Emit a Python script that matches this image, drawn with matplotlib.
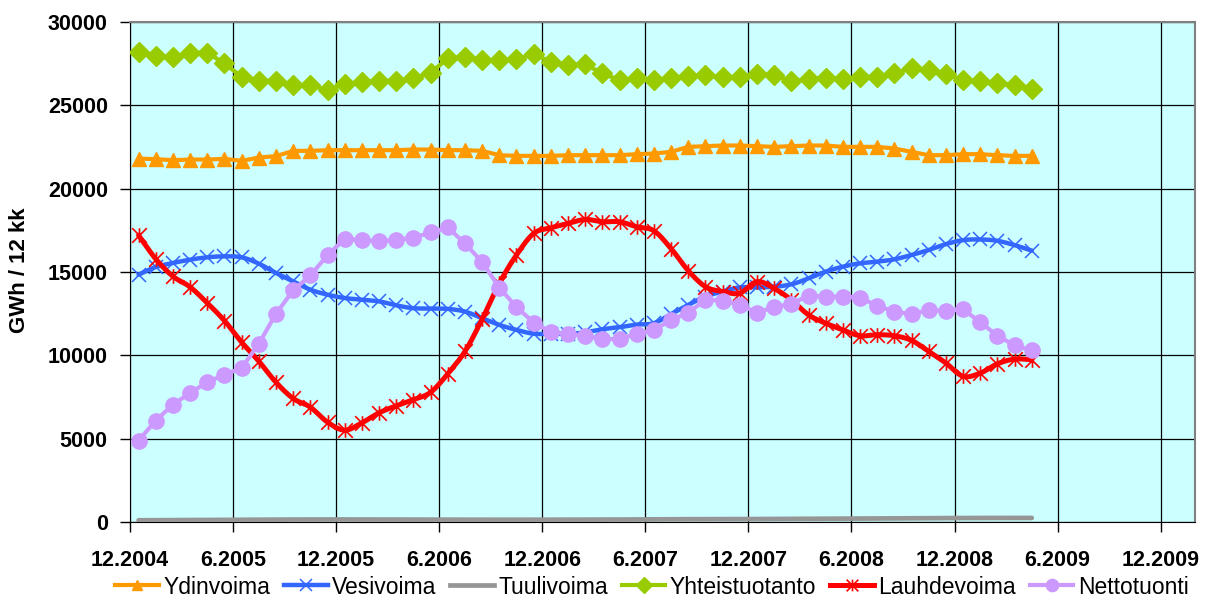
import numpy as np
import pandas as pd
import matplotlib
matplotlib.use("Agg")
import matplotlib.pyplot as plt
from matplotlib.lines import Line2D
from matplotlib.path import Path

plt.rcParams['font.family'] = ['Liberation Sans', 'DejaVu Sans']

# ---- data (GWh, rolling 12 months), monthly 12.2004 .. 4.2009 ----
months = pd.period_range('2004-12', periods=53, freq='M')

ydinvoima = [21800, 21760, 21700, 21740, 21740, 21780, 21660, 21860, 21940, 22260,
             22260, 22300, 22300, 22300, 22300, 22300, 22340, 22340, 22300, 22300,
             22260, 22000, 21960, 21960, 21960, 22000, 22000, 22000, 22000, 22060,
             22100, 22200, 22500, 22540, 22580, 22580, 22540, 22500, 22540, 22580,
             22580, 22500, 22500, 22500, 22400, 22200, 22000, 22000, 22060, 22060,
             22000, 21960, 21960]
vesivoima = [14840, 15300, 15540, 15740, 15880, 15940, 15880, 15500, 14940, 14440,
             13940, 13640, 13440, 13340, 13240, 13000, 12830, 12810, 12790, 12630,
             12230, 11830, 11530, 11300, 11300, 11300, 11380, 11570, 11690, 11850,
             11930, 12480, 13030, 13530, 13830, 14080, 14080, 14120, 14260, 14620,
             15020, 15320, 15520, 15620, 15760, 16020, 16320, 16670, 16910, 16950,
             16870, 16610, 16280]
tuulivoima = [120, 125, 130, 135, 140, 145, 150, 155, 160, 165, 168, 170, 170,
              168, 166, 164, 162, 160, 158, 156, 155, 154, 154, 155, 156,
              158, 160, 163, 166, 170, 175, 180, 185, 188, 190, 192, 195,
              200, 205, 210, 215, 220, 225, 230, 235, 240, 245, 250, 255,
              258, 260, 260, 261]
yhteistuotanto = [28200, 27960, 27860, 28140, 28140, 27500, 26700, 26460, 26460, 26200,
                  26200, 25900, 26260, 26400, 26460, 26460, 26600, 26940, 27800, 27900,
                  27700, 27700, 27740, 28060, 27600, 27400, 27450, 26900, 26500, 26600,
                  26500, 26600, 26740, 26800, 26660, 26700, 26860, 26800, 26440, 26560,
                  26640, 26540, 26700, 26700, 26940, 27200, 27100, 26840, 26500, 26440,
                  26340, 26200, 25940]
lauhdevoima = [17200, 15780, 14740, 14100, 13140, 12080, 10790, 9650, 8390, 7420,
               6900, 6000, 5520, 5960, 6560, 6980, 7350, 7790, 8900, 10240,
               12170, 14320, 16020, 17310, 17650, 17910, 18150, 18010, 18010, 17710,
               17470, 16400, 15080, 14120, 13830, 13730, 14420, 14020, 13330, 12430,
               11930, 11530, 11180, 11240, 11180, 10900, 10240, 9540, 8750, 8940,
               9500, 9780, 9740]
nettotuonti = [4900, 6100, 7050, 7750, 8400, 8850, 9250, 10700, 12500, 13900,
               14800, 16000, 17000, 16900, 16850, 16920, 17060, 17370, 17670, 16710,
               15600, 14060, 12900, 11970, 11410, 11280, 11180, 10980, 10980, 11300,
               11530, 12130, 12570, 13330, 13290, 13030, 12570, 12890, 13090, 13590,
               13530, 13530, 13470, 12970, 12630, 12470, 12730, 12650, 12770, 11990,
               11180, 10600, 10300]

tick_labels = ['12.2004', '6.2005', '12.2005', '6.2006', '12.2006', '6.2007',
               '12.2007', '6.2008', '12.2008', '6.2009', '12.2009']

# category positions: each month centred between month boundaries
x = np.arange(len(months)) + 0.5

fig = plt.figure(figsize=(12.14, 5.99), dpi=100)
ax = fig.add_axes([130 / 1214, 1 - 522.3 / 599, 1065 / 1214, 500.6 / 599])
ax.set_facecolor('#CCFFFF')

SX, SY = 17.18, 500.6 / 30000.0


def smooth(xv, yv, n=14):
    P = np.column_stack([np.asarray(xv, float) * SX, np.asarray(yv, float) * SY])
    out = []
    t = np.linspace(0, 1, n, endpoint=False)[:, None]
    for k in range(len(P) - 1):
        p0 = P[k - 1] if k > 0 else P[k]
        p1, p2 = P[k], P[k + 1]
        p3 = P[k + 2] if k + 2 < len(P) else P[k + 1]
        c1 = p1 + (p2 - p0) / 6.0
        c2 = p2 - (p3 - p1) / 6.0
        out.append((1 - t) ** 3 * p1 + 3 * (1 - t) ** 2 * t * c1
                   + 3 * (1 - t) * t ** 2 * c2 + t ** 3 * p2)
    out.append(P[-1:])
    Q = np.vstack(out)
    return Q[:, 0] / SX, Q[:, 1] / SY


asterisk = Path([(0, -1), (0, 1), (-1, -1), (1, 1), (-1, 1), (1, -1)],
                [Path.MOVETO, Path.LINETO, Path.MOVETO, Path.LINETO,
                 Path.MOVETO, Path.LINETO])

series = [
    ('Ydinvoima', ydinvoima, '#FF9900', 3.0, '^', 9.5, 1.0, False),
    ('Vesivoima', vesivoima, '#3366FF', 3.2, 'x', 10.5, 1.1, True),
    ('Tuulivoima', tuulivoima, '#969696', 3.4, None, 0, 0, False),
    ('Yhteistuotanto', yhteistuotanto, '#99CC00', 3.0, 'D', 10, 1.0, False),
    ('Lauhdevoima', lauhdevoima, '#FF0000', 3.6, asterisk, 10.5, 1.2, True),
    ('Nettotuonti', nettotuonti, '#CC99FF', 3.0, 'o', 11, 1.0, False),
]

handles = []
for i, (name, vals, col, lw, mk, ms, mew, sm) in enumerate(series):
    z = 3 + i
    if sm:
        lx, ly = smooth(x, vals)
    else:
        lx, ly = x, vals
    ax.plot(lx, ly, color=col, lw=lw, solid_capstyle='round', zorder=z)
    if mk is not None:
        ax.plot(x, vals, linestyle='none', marker=mk, ms=ms, color=col,
                mec=col, mfc=col, mew=mew, zorder=z)
    handles.append(Line2D([], [], color=col, lw=lw, marker=mk, ms=ms * 0.8,
                          mec=col, mfc=col, mew=mew, label=name))

ax.set_xlim(0, 62)
ax.set_ylim(0, 30000)
ax.set_xticks(np.arange(0, 61, 6))
ax.set_xticklabels(tick_labels)
ax.set_yticks(np.arange(0, 30001, 5000))
ax.grid(True, color='black', lw=0.9)
ax.set_axisbelow(True)

for lab in ax.get_xticklabels() + ax.get_yticklabels():
    lab.set_fontweight('bold')
    lab.set_fontsize(15.5)
ax.tick_params(axis='x', direction='out', length=7, width=1, pad=13)
ax.tick_params(axis='y', direction='out', length=7, width=1, pad=9)

ax.spines['left'].set_color('black')
ax.spines['bottom'].set_color('black')
ax.spines['top'].set_color('#808080')
ax.spines['right'].set_color('#808080')
ax.spines['top'].set_linewidth(1.5)
ax.spines['right'].set_linewidth(1.5)

fig.text(20 / 1214, 1 - 270 / 599, 'GWh / 12 kk', rotation=90, ha='center',
         va='center', fontsize=16, fontweight='bold')

fig.legend(handles=handles, loc='center', bbox_to_anchor=(652 / 1214, 1 - 587 / 599),
           ncol=6, frameon=False, fontsize=16.5, handlelength=1.9, handletextpad=0.2,
           columnspacing=0.6, borderpad=0, borderaxespad=0)

fig.savefig('out.png', dpi=100)
